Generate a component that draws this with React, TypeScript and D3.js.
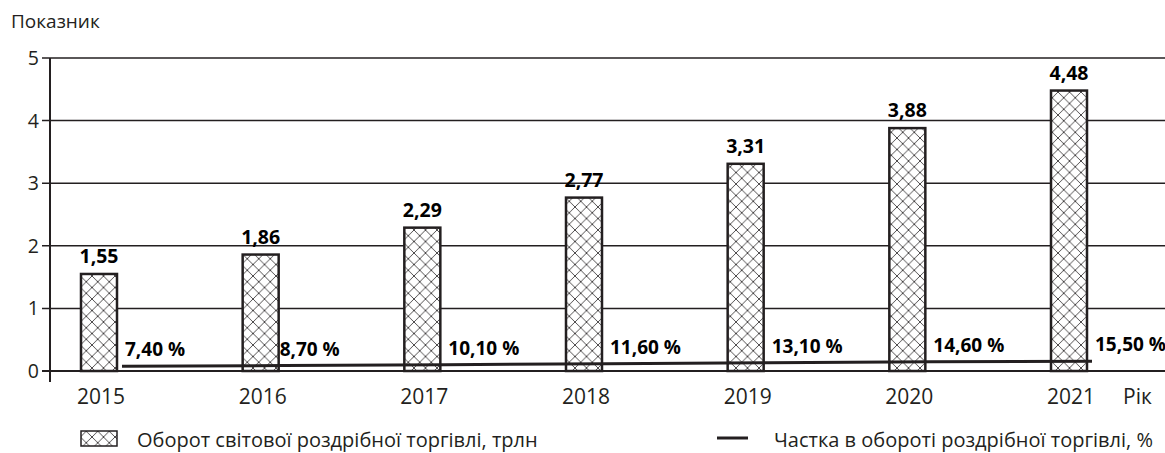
import * as d3 from 'd3';

const years = ['2015', '2016', '2017', '2018', '2019', '2020', '2021'];
const turnover = [1.55, 1.86, 2.29, 2.77, 3.31, 3.88, 4.48];
const shareLabels = ['7,40 %', '8,70 %', '10,10 %', '11,60 %', '13,10 %', '14,60 %', '15,50 %'];
const share = [0.074, 0.087, 0.101, 0.116, 0.131, 0.146, 0.155];
const yTicks = [0, 1, 2, 3, 4, 5];

const WIDTH = 1165;
const HEIGHT = 453;
const FONT = "'Open Sans', 'Noto Sans', sans-serif";
const INK = '#231f20';

export default function App() {
  const x = d3.scalePoint<string>().domain(years).range([99, 1069]);
  const y = d3.scaleLinear().domain([0, 5]).range([371, 58]);
  const barW = 36;
  const lineOffset = 23;

  const line = d3
    .line<number>()
    .x((_, i) => (x(years[i]) ?? 0) + lineOffset)
    .y((d) => y(d));

  const fmt = (v: number) => v.toFixed(2).replace('.', ',');

  return (
    <svg
      width={WIDTH}
      height={HEIGHT}
      style={{ position: 'absolute', left: 0, top: 0, background: '#fff' }}
      fontFamily={FONT}
    >
      <defs>
        <pattern id="hatch" width={11.5} height={11.5} patternUnits="userSpaceOnUse">
          <rect width={11.5} height={11.5} fill="#fff" />
          <path d="M0,0 L11.5,11.5 M11.5,0 L0,11.5" stroke={INK} strokeWidth={0.8} />
        </pattern>
      </defs>

      <text x={11} y={28} fontSize={19} fill={INK}>Показник</text>

      {/* grid + y ticks */}
      {yTicks.map((t) => (
        <g key={t}>
          <line x1={42} x2={WIDTH} y1={y(t)} y2={y(t)} stroke={INK} strokeWidth={t === 0 ? 2 : 1.5} />
          <text x={39} y={y(t) + 7} fontSize={19.5} textAnchor="end" fill={INK}>{t}</text>
        </g>
      ))}
      <line x1={50} x2={50} y1={y(5)} y2={382} stroke={INK} strokeWidth={2} />

      {/* bars */}
      {turnover.map((v, i) => {
        const cx = x(years[i]) ?? 0;
        return (
          <g key={years[i]}>
            <rect
              x={cx - barW / 2}
              y={y(v)}
              width={barW}
              height={y(0) - y(v)}
              fill="url(#hatch)"
              stroke={INK}
              strokeWidth={2.5}
            />
            <text x={cx} y={y(v) - 11} fontSize={19.5} fontWeight="bold" textAnchor="middle" fill="#000">
              {fmt(v)}
            </text>
          </g>
        );
      })}

      {/* share line */}
      <path d={line(share) ?? ''} fill="none" stroke={INK} strokeWidth={3} />
      {share.map((v, i) => (
        <text
          key={shareLabels[i]}
          x={(x(years[i]) ?? 0) + (i === 1 ? 19 : 26)}
          y={y(v) - 10}
          fontSize={19}
          fontWeight="bold"
          fill="#000"
        >
          {shareLabels[i]}
        </text>
      ))}

      {/* x labels */}
      {years.map((yr) => (
        <text key={yr} x={(x(yr) ?? 0) + 2} y={404} fontSize={21} textAnchor="middle" fill={INK}>{yr}</text>
      ))}
      <text x={1123} y={404} fontSize={21} fill={INK}>Рік</text>

      {/* legend */}
      <rect x={81} y={431} width={36} height={15} fill="url(#hatch)" stroke={INK} strokeWidth={1.5} />
      <text x={137} y={447} fontSize={20} fill={INK}>Оборот світової роздрібної торгівлі, трлн</text>
      <line x1={717} x2={748} y1={438} y2={438} stroke={INK} strokeWidth={3} />
      <text x={774} y={447} fontSize={20} fill={INK}>Частка в обороті роздрібної торгівлі, %</text>
    </svg>
  );
}
